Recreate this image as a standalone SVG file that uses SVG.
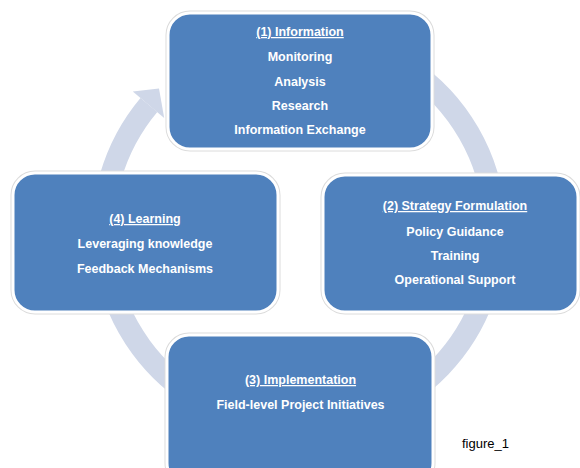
<svg xmlns="http://www.w3.org/2000/svg" width="580" height="468" viewBox="0 0 580 468">
  <style>
    .box { fill: #4f81bd; stroke: #ffffff; stroke-width: 3; }
    .halo { fill: none; stroke: #dcdcdc; stroke-width: 5; }
    .t { font-family: "Liberation Sans", Arial, sans-serif; font-weight: bold; font-size: 12.5px; fill: #ffffff; text-anchor: middle; }
    .h { text-decoration: underline; }
    .cap { font-family: "Liberation Sans", Arial, sans-serif; font-size: 13px; fill: #000000; }
    .ring { fill: none; stroke: #cfd7e8; stroke-width: 22; }
  </style>
  <rect width="580" height="468" fill="#ffffff"/>
  <g id="connectors">
    <path class="ring" d="M 333 38 A 196 196 0 1 1 148.9 105"/>
    <polygon points="164.2,117.9 132.8,91.5 159,88.5" fill="#cfd7e8"/>
  </g>
  <g id="node1">
    <rect class="halo" x="168" y="13" width="264" height="136" rx="22"/>
    <rect class="box" x="168" y="13" width="264" height="136" rx="22"/>
    <text class="t h" x="300" y="36">(1) Information</text>
    <text class="t" x="300" y="61">Monitoring</text>
    <text class="t" x="300" y="86">Analysis</text>
    <text class="t" x="300" y="110">Research</text>
    <text class="t" x="300" y="134">Information Exchange</text>
  </g>
  <g id="node2">
    <rect class="halo" x="323" y="175" width="255" height="137" rx="22"/>
    <rect class="box" x="323" y="175" width="255" height="137" rx="22"/>
    <text class="t h" x="455" y="210">(2) Strategy Formulation</text>
    <text class="t" x="455" y="236">Policy Guidance</text>
    <text class="t" x="455" y="260">Training</text>
    <text class="t" x="455" y="284">Operational Support</text>
  </g>
  <g id="node3">
    <rect class="halo" x="167" y="335" width="266" height="150" rx="22"/>
    <rect class="box" x="167" y="335" width="266" height="150" rx="22"/>
    <text class="t h" x="300.5" y="384">(3) Implementation</text>
    <text class="t" x="300.5" y="409">Field-level Project Initiatives</text>
  </g>
  <g id="node4">
    <rect class="halo" x="13" y="173" width="265" height="139" rx="22"/>
    <rect class="box" x="13" y="173" width="265" height="139" rx="22"/>
    <text class="t h" x="145" y="223">(4) Learning</text>
    <text class="t" x="145" y="248">Leveraging knowledge</text>
    <text class="t" x="145" y="273">Feedback Mechanisms</text>
  </g>
  <g id="caption">
    <text class="cap" x="462" y="448">figure_1</text>
  </g>
</svg>
